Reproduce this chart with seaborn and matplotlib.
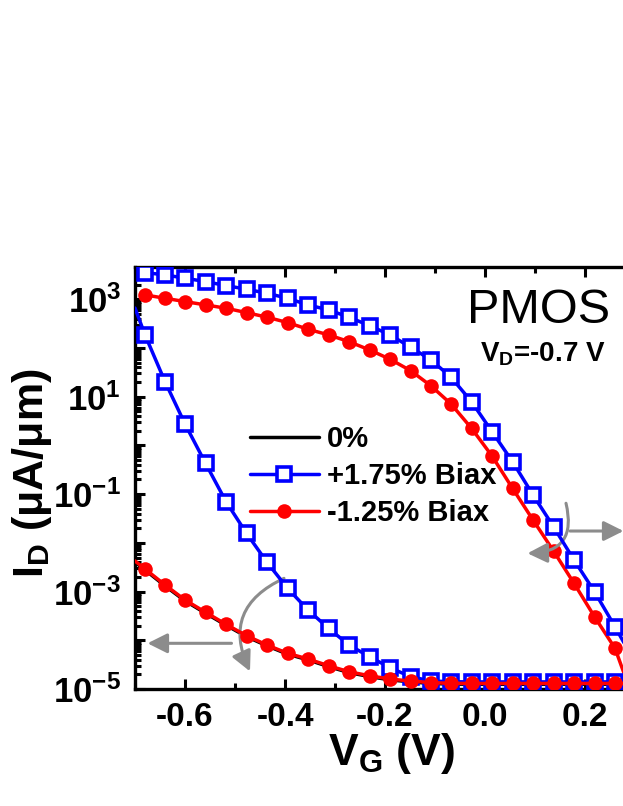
import matplotlib
matplotlib.use('Agg')
import matplotlib.pyplot as plt
import seaborn as sns
from matplotlib.lines import Line2D
from matplotlib.ticker import FixedLocator, FixedFormatter, LogLocator, NullFormatter, MultipleLocator

# ---------------- data ----------------
vg_grid = [-0.680, -0.640, -0.600, -0.559, -0.518, -0.477, -0.436, -0.395, -0.354,
           -0.313, -0.272, -0.231, -0.190, -0.149, -0.108, -0.068, -0.027, 0.014,
           0.055, 0.096, 0.137, 0.178, 0.219, 0.260, 0.300]
vg_sub = [-0.700, -0.680, -0.640, -0.600, -0.559, -0.518, -0.477, -0.436, -0.395,
          -0.354, -0.313, -0.272, -0.231, -0.190, -0.149, -0.108, -0.068, -0.027,
          0.014, 0.055, 0.096, 0.137, 0.178, 0.219, 0.260, 0.300]

blue_upper = [3530, 3170, 2710, 2310, 1910, 1610, 1330, 1050, 767, 605, 429, 288,
              186, 104, 57.0, 25.1, 7.93, 1.92, 0.465, 0.0964, 0.0215, 4.46e-3,
              9.95e-4, 1.90e-4, 3.5e-5]
red_upper = [1230, 1050, 897, 767, 656, 533, 429, 333, 243, 186, 135, 91.4, 58.9,
             34.4, 16.7, 7.11, 2.25, 0.608, 0.132, 0.0295, 6.82e-3, 1.48e-3,
             3.05e-4, 6.85e-5, 5.0e-6]
blue_lower = [661, 186, 20.4, 2.76, 0.431, 0.0702, 0.0157, 4.0e-3, 1.17e-3, 4.19e-4,
              1.76e-4, 8.0e-5, 4.6e-5, 2.74e-5, 1.79e-5, 1.46e-5, 1.41e-5, 1.40e-5,
              1.40e-5, 1.40e-5, 1.40e-5, 1.40e-5, 1.40e-5, 1.40e-5, 1.40e-5, 1.40e-5]
red_lower = [4.25e-3, 2.91e-3, 1.37e-3, 6.73e-4, 3.76e-4, 2.13e-4, 1.24e-4, 8.0e-5,
             5.41e-5, 4.13e-5, 3.01e-5, 2.26e-5, 1.87e-5, 1.60e-5, 1.46e-5, 1.35e-5,
             1.31e-5, 1.30e-5, 1.30e-5, 1.30e-5, 1.30e-5, 1.30e-5, 1.30e-5, 1.30e-5,
             1.30e-5, 1.30e-5]
zero_lower = [4.05e-3, 2.78e-3, 1.31e-3, 6.45e-4, 3.60e-4, 2.04e-4, 1.19e-4, 7.7e-5,
              5.2e-5, 3.96e-5, 2.89e-5, 2.17e-5, 1.80e-5, 1.54e-5, 1.40e-5, 1.30e-5,
              1.26e-5, 1.25e-5, 1.25e-5, 1.25e-5, 1.25e-5, 1.25e-5, 1.25e-5, 1.25e-5,
              1.25e-5, 1.25e-5]

legend_labels = ['0%', '+1.75% Biax', '-1.25% Biax']
x_ticks = [-0.6, -0.4, -0.2, 0.0, 0.2]
x_ticklabels = ['-0.6', '-0.4', '-0.2', '0.0', '0.2']
y_ticks = [1e-5, 1e-4, 1e-3, 1e-2, 1e-1, 1e0, 1e1, 1e2, 1e3]
y_ticklabels = [r'$10^{-5}$', '', r'$10^{-3}$', '', r'$10^{-1}$', '', r'$10^{1}$', '', r'$10^{3}$']

# ---------------- style ----------------
sns.set_style('ticks')
plt.rcParams['font.family'] = ['Liberation Sans', 'DejaVu Sans']
plt.rcParams['font.weight'] = 'bold'
plt.rcParams['text.color'] = 'black'
plt.rcParams['axes.labelcolor'] = 'black'
plt.rcParams['xtick.color'] = 'black'
plt.rcParams['ytick.color'] = 'black'
plt.rcParams['mathtext.fontset'] = 'custom'
plt.rcParams['mathtext.rm'] = 'Liberation Sans:bold'
plt.rcParams['mathtext.it'] = 'Liberation Sans:bold'
plt.rcParams['mathtext.bf'] = 'Liberation Sans:bold'
plt.rcParams['mathtext.default'] = 'rm'

W, H = 623, 806
fig = plt.figure(figsize=(W / 100, H / 100), dpi=100)
fig.patch.set_facecolor('white')
ax = fig.add_axes([135 / W, 117 / H, 500 / W, 422 / H])
ax.set_facecolor('white')
ax.set_yscale('log')

BLUE = '#0000FF'
RED = '#FF0000'
GRAY = '#8C8C8C'
LW = 2.5

# 0% (mostly hidden under the red curve)
sns.lineplot(x=vg_sub, y=zero_lower, ax=ax, color='black', lw=LW, zorder=2)

sq = dict(marker='s', markersize=10.5, markerfacecolor='white', markeredgecolor=BLUE,
          markeredgewidth=2.6)
ci = dict(marker='o', markersize=10.5, markerfacecolor=RED, markeredgecolor=RED,
          markeredgewidth=0)

sns.lineplot(x=vg_grid, y=blue_upper, ax=ax, color=BLUE, lw=LW, zorder=4, **sq)
sns.lineplot(x=vg_grid, y=red_upper, ax=ax, color=RED, lw=LW, zorder=3, **ci)
sns.lineplot(x=vg_sub, y=blue_lower, ax=ax, color=BLUE, lw=LW, zorder=4,
             markevery=slice(1, None), **sq)
sns.lineplot(x=vg_sub, y=red_lower, ax=ax, color=RED, lw=LW, zorder=5,
             markevery=slice(1, None), **ci)

ax.set_xlim(-0.7, 0.3)
ax.set_ylim(1e-5, 4.6e3)
ax.set_xlabel('')
ax.set_ylabel('')

ax.xaxis.set_major_locator(FixedLocator(x_ticks))
ax.xaxis.set_major_formatter(FixedFormatter(x_ticklabels))
ax.xaxis.set_minor_locator(MultipleLocator(0.1))
ax.yaxis.set_major_locator(FixedLocator(y_ticks))
ax.yaxis.set_major_formatter(FixedFormatter(y_ticklabels))
ax.yaxis.set_minor_locator(LogLocator(base=10, subs=[2, 3, 4, 5, 6, 7, 8, 9], numticks=30))
ax.yaxis.set_minor_formatter(NullFormatter())

for s in ax.spines.values():
    s.set_linewidth(2.4)
    s.set_color('black')
ax.tick_params(which='both', direction='in', top=True, right=True, width=2.2, color='black')
ax.tick_params(which='major', length=7.5)
ax.tick_params(which='minor', length=4.5)
ax.tick_params(axis='x', which='major', labelsize=24, pad=9, labelcolor='black')
ax.tick_params(axis='y', which='major', labelsize=25, pad=10, labelcolor='black')
for lab in ax.get_xticklabels() + ax.get_yticklabels():
    lab.set_fontweight('bold')

# axis labels
fig.text(391.7 / W, 1 - 765 / H, r'V$_{\mathrm{G}}$ (V)', fontsize=32, fontweight='bold',
         ha='center', va='baseline', color='black')
fig.text(43.3 / W, 1 - 473 / H, r'I$_{\mathrm{D}}$ (μA/μm)', fontsize=31, fontweight='bold',
         rotation=90, rotation_mode='anchor', ha='center', va='baseline', color='black')

# annotations in the plot
fig.text(466.7 / W, 1 - 323.3 / H, 'PMOS', fontsize=35, fontweight='normal',
         ha='left', va='baseline', color='black')
fig.text(480 / W, 1 - 361.7 / H, r'V$_{\mathrm{D}}$=-0.7 V', fontsize=20,
         fontweight='bold', ha='left', va='baseline', color='black')

# legend
handles = [
    Line2D([], [], color='black', lw=LW),
    Line2D([], [], color=BLUE, lw=LW, **sq),
    Line2D([], [], color=RED, lw=LW, **ci),
]
leg = ax.legend(handles, legend_labels, loc='center left',
                bbox_to_anchor=(250 / W, 1 - 476 / H), bbox_transform=fig.transFigure,
                frameon=False, borderpad=0, borderaxespad=0, handlelength=2.35,
                handletextpad=0.3, labelspacing=0.3,
                prop=dict(family=['Liberation Sans'], weight='bold', size=21))
for t in leg.get_texts():
    t.set_color('black')

# gray arrows
arrow_kw = dict(arrowstyle='-|>,head_length=0.6,head_width=0.3', color=GRAY, lw=2.2,
                shrinkA=0, shrinkB=0, mutation_scale=20)
ax.annotate('', xy=(-0.470, 2.3e-5), xytext=(-0.402, 1.87e-3),
            arrowprops=dict(connectionstyle='arc3,rad=0.5', **arrow_kw))
ax.annotate('', xy=(-0.675, 8.67e-5), xytext=(-0.507, 8.67e-5),
            arrowprops=dict(connectionstyle='arc3,rad=0', **arrow_kw))
ax.annotate('', xy=(0.085, 6.1e-3), xytext=(0.162, 0.065),
            arrowprops=dict(connectionstyle='arc3,rad=-0.62', **arrow_kw))
ax.annotate('', xy=(0.277, 0.0175), xytext=(0.17, 0.0175),
            arrowprops=dict(connectionstyle='arc3,rad=0', **arrow_kw))

fig.savefig('out.png', dpi=100, facecolor='white')
